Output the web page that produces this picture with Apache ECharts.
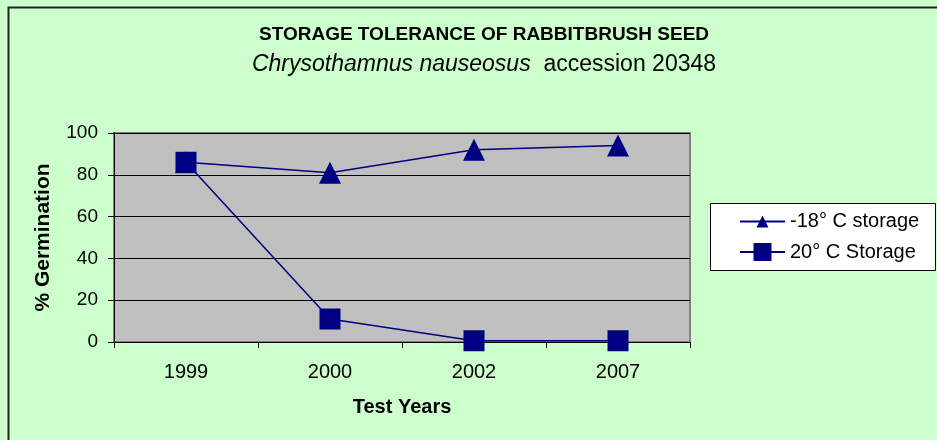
<!DOCTYPE html>
<html>
<head>
<meta charset="utf-8">
<script src="https://cdn.jsdelivr.net/npm/echarts@6/dist/echarts.min.js"></script>
<style>
html,body{margin:0;padding:0;background:#ccffcc;}
#c{width:937px;height:440px;}
</style>
</head>
<body>
<div id="c"></div>
<script>
var categories = ['1999', '2000', '2002', '2007'];
var coldStorage = [86, 81, 92, 94];
var warmStorage = [86, 11, 0.6, 0.6];
var seriesNames = ['-18° C storage', '20° C Storage'];
var yTicks = { min: 0, max: 100, interval: 20 };

var FONT = '"Liberation Sans", Arial, sans-serif';
var NAVY = '#000080';
var chart = echarts.init(document.getElementById('c'));
chart.setOption({
  backgroundColor: '#ccffcc',
  animation: false,
  textStyle: { fontFamily: FONT },
  title: [
    { text: 'STORAGE TOLERANCE OF RABBITBRUSH SEED', left: 479, top: 20, textAlign: 'center',
      textStyle: { fontFamily: FONT, fontSize: 19, fontWeight: 'bold', color: '#000' } },
    { text: '{i|Chrysothamnus nauseosus}{n|  accession 20348}', left: 479, top: 48, textAlign: 'center',
      textStyle: { fontWeight: 'normal', rich: {
        i: { fontFamily: FONT, fontSize: 23, fontStyle: 'italic', fontWeight: 'normal', color: '#000' },
        n: { fontFamily: FONT, fontSize: 23, fontWeight: 'normal', color: '#000' } } } }
  ],
  grid: { left: 114, right: 247, top: 133, bottom: 98, show: true, backgroundColor: '#c0c0c0',
          borderColor: '#808080', borderWidth: 2 },
  legend: [
    { left: 739, top: 211.5, padding: 0, itemWidth: 45, itemHeight: 15,
      textStyle: { fontFamily: FONT, fontSize: 20, color: '#000' },
      data: [seriesNames[0]] },
    { left: 739, top: 242, padding: 0, itemWidth: 45, itemHeight: 22.5,
      textStyle: { fontFamily: FONT, fontSize: 20, color: '#000' },
      data: [seriesNames[1]] }
  ],
  xAxis: {
    type: 'category', data: categories, boundaryGap: true,
    name: 'Test Years', nameLocation: 'middle', nameGap: 55,
    nameTextStyle: { fontFamily: FONT, fontSize: 20, fontWeight: 'bold', color: '#000' },
    axisLine: { show: true, lineStyle: { color: '#000', width: 1 } },
    axisTick: { show: true, length: 6, lineStyle: { color: '#000' } },
    axisLabel: { margin: 20, fontFamily: FONT, fontSize: 20, color: '#000' },
    splitLine: { show: false }
  },
  yAxis: {
    type: 'value', min: yTicks.min, max: yTicks.max, interval: yTicks.interval,
    name: '% Germination', nameLocation: 'middle', nameGap: 60, nameRotate: 90,
    nameTextStyle: { fontFamily: FONT, fontSize: 21, fontWeight: 'bold', color: '#000' },
    axisLine: { show: true, lineStyle: { color: '#000', width: 1 } },
    axisTick: { show: true, length: 6, lineStyle: { color: '#000' } },
    axisLabel: { margin: 16, fontFamily: FONT, fontSize: 19, color: '#000' },
    splitLine: { show: true, lineStyle: { color: '#000', width: 1 } }
  },
  series: [
    { name: seriesNames[0], type: 'line', data: coldStorage, symbol: 'triangle', symbolSize: 22,
      lineStyle: { color: NAVY, width: 1.5 }, itemStyle: { color: NAVY } },
    { name: seriesNames[1], type: 'line', data: warmStorage, symbol: 'rect', symbolSize: 21,
      lineStyle: { color: NAVY, width: 1.5 }, itemStyle: { color: NAVY } }
  ],
  graphic: [
    { type: 'polyline', shape: { points: [[8.5, 440], [8.5, 7.5], [937, 7.5]] },
      style: { stroke: '#222', lineWidth: 2, fill: null } },
    { type: 'rect', shape: { x: 710.5, y: 203.5, width: 225, height: 67 },
      style: { fill: '#ffffff', stroke: '#000', lineWidth: 1 } }
  ]
});
</script>
</body>
</html>
